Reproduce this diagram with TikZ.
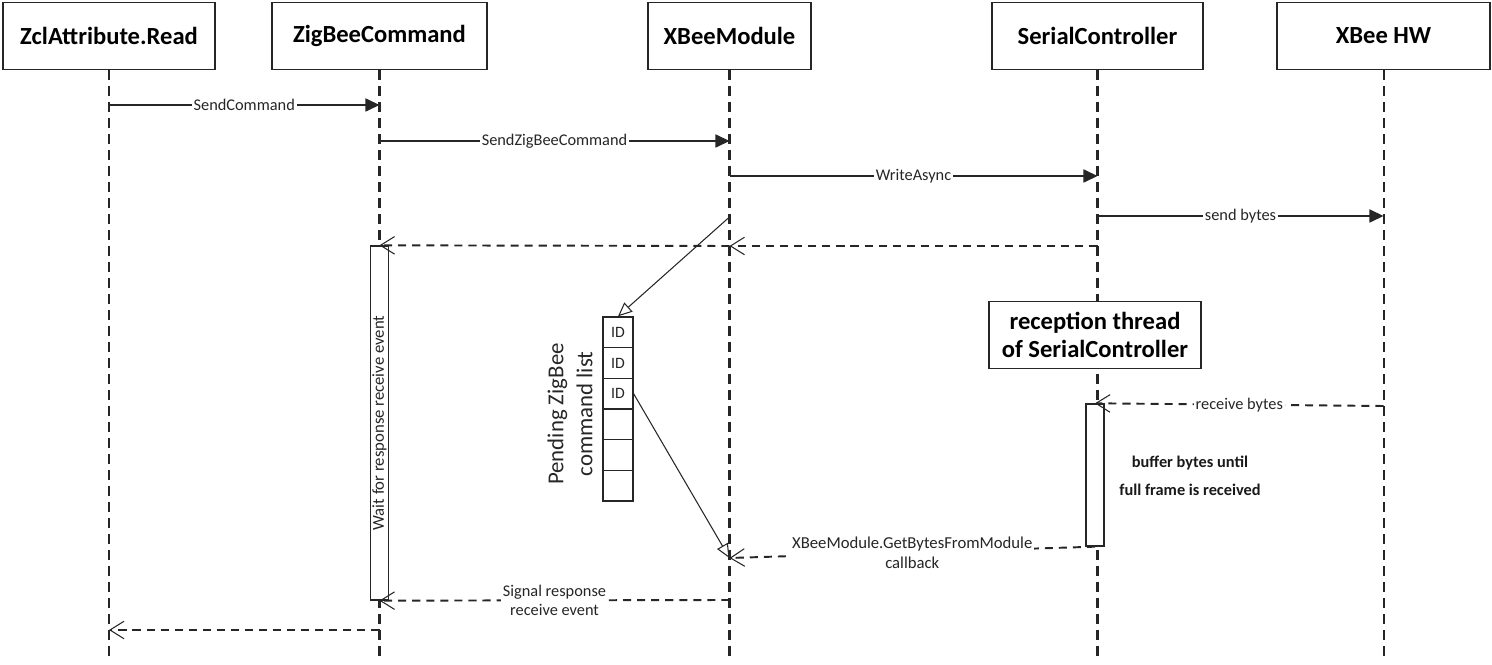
\documentclass[tikz,border=0pt]{standalone}
\usepackage{fontspec}
\setmainfont{Carlito}
\usetikzlibrary{arrows.meta}
\begin{document}
\begin{tikzpicture}[x=0.02cm,y=-0.02cm,
  hdr/.style={draw=black!85, line width=0.85pt, fill=white, minimum height=1.34cm, inner sep=0pt, font=\fontsize{14}{16}\selectfont\bfseries},
  life/.style={draw=black!85, line width=1.15pt, dash pattern=on 5.7pt off 3.4pt},
  msg/.style={draw=black!85, line width=0.7pt, -{Triangle[length=8pt,width=7.5pt]}},
  ret/.style={draw=black!85, line width=1.1pt, dash pattern=on 4.6pt off 3.4pt, -{Straight Barb[length=8pt,width=10pt,line width=0.6pt]}},
  lbl/.style={fill=white, inner sep=1pt, text=black!85, font=\fontsize{9.3}{11}\selectfont},
  act/.style={draw=black!85, fill=white, line width=0.8pt, minimum width=0.36cm, inner sep=0pt},
  cell/.style={draw=black!85, fill=white, line width=0.7pt, minimum width=0.6cm, minimum height=0.613cm, inner sep=0pt, text=black!85, font=\fontsize{9}{10}\selectfont},
  hollow/.style={draw=black!85, line width=0.6pt, -{Triangle[open,length=8pt,width=7pt]}}]
\useasboundingbox (0,0) rectangle (1492,665);

% headers
\node[hdr, minimum width=4.24cm] (zcl) at (109,36) {ZclAttribute.Read};
\node[hdr, minimum width=4.3cm] (zbc) at (379.5,36) {ZigBeeCommand};
\node[hdr, minimum width=3.26cm] (xbm) at (729.5,36) {XBeeModule};
\node[hdr, minimum width=4.22cm] (sc) at (1097.5,36) {SerialController};
\node[hdr, minimum width=4.26cm] (hw) at (1383.5,36) {XBee HW};

% lifeline ends
\coordinate (zclE) at (109,660);
\coordinate (zbcE) at (379.5,660);
\coordinate (xbmE) at (729.5,660);
\coordinate (scE) at (1097.5,660);
\coordinate (hwE) at (1383.5,660);
\draw[life] (zcl.south) -- (zclE);
\draw[life] (zbc.south) -- (zbcE);
\draw[life] (xbm.south) -- (xbmE);
\draw[life] (sc.south) -- (scE);
\draw[life] (hw.south) -- (hwE);

% boxes on lifelines
\node[act, minimum height=7.08cm] (zact) at (379.5,423) {};
\node[rotate=90, font=\fontsize{9.5}{11}\selectfont, text=black!85] (waitlbl) at (379.5,423) {Wait for response receive event};
\node[hdr, minimum width=4.24cm, align=center, font=\fontsize{14}{15.5}\selectfont\bfseries] (rt) at (1095,335) {reception thread\\of SerialController};
\node[act, minimum height=2.84cm] (sact) at (1095,475) {};

% command list
\node[cell] (r1) at (618,332.3) {\raisebox{-1.5pt}{ID}};
\node[cell] (r2) at (618,363.0) {\raisebox{-2.5pt}{ID}};
\node[cell] (r3) at (618,393.7) {\raisebox{-4pt}{ID}};
\node[cell] (r4) at (618,424.3) {};
\node[cell] (r5) at (618,455.0) {};
\node[cell] (r6) at (618,485.7) {};
\node[rotate=90, align=center, text=black!85, font=\fontsize{13}{16.5}\selectfont] (pend) at (570,414) {Pending ZigBee\\command list};

% message points
\coordinate (m1a) at (109,105);  \coordinate (m1b) at (379.5,105);
\coordinate (m2a) at (379.5,141); \coordinate (m2b) at (729.5,141);
\coordinate (m3a) at (729.5,176); \coordinate (m3b) at (1097.5,176);
\coordinate (m4a) at (1097.5,216); \coordinate (m4b) at (1383.5,216);
\coordinate (m5a) at (1097.5,246); \coordinate (m5b) at (729.5,246);
\coordinate (m6a) at (729.5,217);
\coordinate (m7a) at (1383.5,406);
\coordinate (m8b) at (729.5,558);
\coordinate (m9a) at (729.5,600);
\coordinate (m10a) at (379.5,630); \coordinate (m10b) at (109,630);

\draw[msg] (m1a) -- node[lbl] {SendCommand} (m1b);
\draw[msg] (m2a) -- node[lbl] {SendZigBeeCommand} (m2b);
\draw[msg] (m3a) -- node[lbl] {WriteAsync} (m3b);
\draw[msg] (m4a) -- node[lbl] {send bytes} (m4b);
\draw[ret] (m5a) -- (m5b);
\draw[ret] (m5b) -- (zact.north);
\draw[hollow] (m6a) -- (r1.north);
\draw[hollow] (r3.east) -- (m8b);
\draw[ret] (m7a) -- node[lbl] {receive bytes} (sact.north);
\draw[ret] (sact.south) -- node[lbl, align=center, font=\fontsize{9.5}{11.3}\selectfont] {XBeeModule.GetBytesFromModule\\callback} (m8b);
\node[align=center, text=black!90, font=\fontsize{9.3}{15.9}\selectfont\bfseries] (buf) at (1190,476) {buffer bytes until\\full frame is received};
\draw[ret] (m9a) -- node[lbl, align=center, font=\fontsize{9.3}{10.8}\selectfont] {Signal response\\receive event} (zact.south);
\draw[ret] (m10a) -- (m10b);
\end{tikzpicture}
\end{document}
